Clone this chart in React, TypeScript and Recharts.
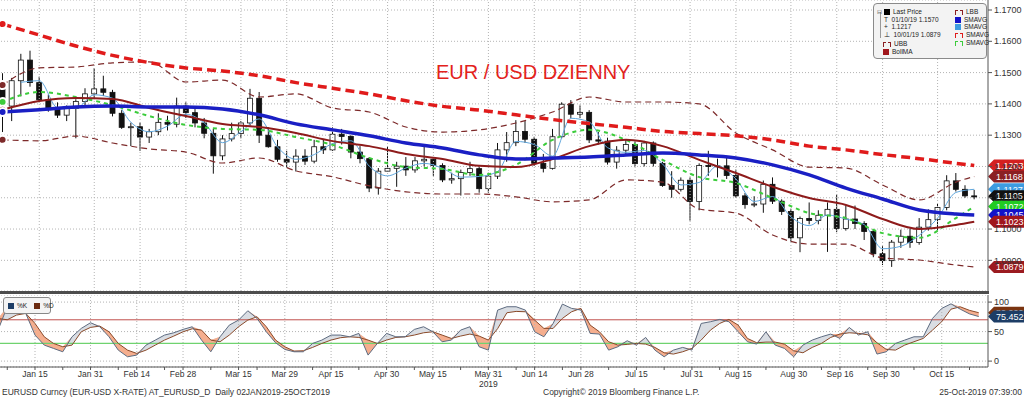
import React from "react";
import {
  ComposedChart,
  Bar,
  Line,
  Area,
  XAxis,
  YAxis,
  CartesianGrid,
  ReferenceLine
} from "recharts";

// EUR/USD, two trading days per candle (Jan 2 - Oct 25 2019)
const firstOpen = 1.1465;
const closes = [
  1.1393, 1.1474, 1.154, 1.1468, 1.1413, 1.1387, 1.1364, 1.1385, 1.1408, 1.1432,
  1.1448, 1.1437, 1.137, 1.1325, 1.1327, 1.1294, 1.1311, 1.1341, 1.1335, 1.1393,
  1.1372, 1.1339, 1.1306, 1.1234, 1.1288, 1.1305, 1.1339, 1.1418, 1.13, 1.1263,
  1.1223, 1.1214, 1.1233, 1.1217, 1.1263, 1.1253, 1.1303, 1.1296, 1.1246, 1.1225,
  1.1131, 1.1185, 1.1194, 1.1201, 1.1189, 1.1218, 1.1223, 1.1203, 1.1157, 1.1161,
  1.1181, 1.1193, 1.1129, 1.1169, 1.1253, 1.1276, 1.1312, 1.1287, 1.121, 1.1194,
  1.1295, 1.1399, 1.1367, 1.1373, 1.1285, 1.1281, 1.1214, 1.1252, 1.127, 1.1209,
  1.1275, 1.121, 1.1139, 1.1127, 1.1156, 1.1088, 1.1203, 1.1201, 1.1202, 1.1171,
  1.1106, 1.1078, 1.108, 1.1143, 1.1089, 1.1056, 1.0972, 1.1034, 1.1027, 1.1044,
  1.1063, 1.1002, 1.1032, 1.1018, 1.0992, 1.0921, 1.0899, 1.0958, 1.0977, 1.0957,
  1.1006, 1.103, 1.1069, 1.1154, 1.1127, 1.1106, 1.1105
];
const highs = [
  1.1498, 1.1483, 1.156, 1.157, 1.1487, 1.143, 1.1405, 1.1395, 1.1415, 1.145,
  1.1514, 1.149, 1.1445, 1.138, 1.134, 1.134, 1.132, 1.137, 1.1362, 1.142,
  1.1405, 1.139, 1.1355, 1.132, 1.13, 1.134, 1.1345, 1.1448, 1.1438, 1.1325,
  1.1285, 1.125, 1.1255, 1.1255, 1.1285, 1.1288, 1.1325, 1.132, 1.13, 1.1265,
  1.123, 1.1195, 1.1265, 1.1215, 1.123, 1.123, 1.1265, 1.123, 1.121, 1.118,
  1.119, 1.1215, 1.12, 1.118, 1.1275, 1.131, 1.1348, 1.1345, 1.1295, 1.124,
  1.132, 1.1405, 1.1412, 1.1395, 1.138, 1.131, 1.1292, 1.1265, 1.1285, 1.128,
  1.1282, 1.128, 1.1215, 1.1185, 1.1165, 1.1165, 1.121, 1.125, 1.1225, 1.123,
  1.119, 1.1115, 1.1105, 1.1155, 1.1165, 1.1095, 1.1065, 1.104, 1.1085, 1.106,
  1.1085, 1.111, 1.1075, 1.1075, 1.1025, 1.1, 1.0945, 1.0965, 1.0998, 1.1,
  1.1035, 1.1063, 1.108, 1.1172, 1.1179, 1.114, 1.1125
];
const lows = [
  1.131, 1.1345, 1.1424, 1.1455, 1.1405, 1.1375, 1.1355, 1.1345, 1.129, 1.1395,
  1.1415, 1.1425, 1.136, 1.132, 1.1265, 1.125, 1.1275, 1.13, 1.1315, 1.1325,
  1.1355, 1.1325, 1.129, 1.1177, 1.122, 1.128, 1.129, 1.133, 1.1275, 1.126,
  1.1215, 1.1195, 1.1184, 1.1205, 1.121, 1.124, 1.125, 1.127, 1.1226, 1.121,
  1.1118, 1.111, 1.1185, 1.1135, 1.117, 1.118, 1.12, 1.117, 1.115, 1.1145,
  1.1107, 1.117, 1.1116, 1.1116, 1.116, 1.1215, 1.1265, 1.1275, 1.1202, 1.1181,
  1.119, 1.129, 1.1355, 1.1355, 1.1275, 1.127, 1.1206, 1.1193, 1.124, 1.12,
  1.12, 1.12, 1.1135, 1.11, 1.112, 1.1027, 1.106, 1.117, 1.1165, 1.116,
  1.11, 1.1065, 1.107, 1.1052, 1.108, 1.1045, 1.096, 1.0926, 1.1015, 1.1015,
  1.0927, 1.099, 1.0995, 1.1, 1.0965, 1.091, 1.0885, 1.0879, 1.094, 1.094,
  1.095, 1.0995, 1.0995, 1.106, 1.112, 1.11, 1.1095
];

// indicator readings, taken every 4th candle (+ the last one)
const sparseIdx = [0, 4, 8, 12, 16, 20, 24, 28, 32, 36, 40, 44, 48, 52, 56, 60, 64, 68, 72, 76, 80, 84, 88, 92, 96, 100, 104, 106];
const sma200 = [
  1.1655, 1.162, 1.1585, 1.1555, 1.1532, 1.1515, 1.1505, 1.149, 1.1468, 1.145,
  1.1432, 1.141, 1.1392, 1.138, 1.1365, 1.135, 1.1337, 1.1325, 1.1312, 1.1305,
  1.1298, 1.1285, 1.1265, 1.1253, 1.1238, 1.1225, 1.121, 1.1203
];
const smaBlue = [
  1.1374, 1.1381, 1.139, 1.1393, 1.139, 1.139, 1.1384, 1.1365, 1.1336, 1.1317,
  1.1298, 1.1275, 1.1259, 1.1237, 1.1224, 1.1227, 1.123, 1.1237, 1.1243, 1.1237,
  1.1227, 1.1205, 1.1173, 1.1131, 1.1096, 1.1061, 1.1048, 1.1045
];
const bollMA = [
  1.1381, 1.1409, 1.1419, 1.1416, 1.1387, 1.1361, 1.1336, 1.1326, 1.1307, 1.1281,
  1.1265, 1.124, 1.1224, 1.1202, 1.1198, 1.1224, 1.1265, 1.1285, 1.1265, 1.1221,
  1.1179, 1.1135, 1.1099, 1.1077, 1.1032, 1.1, 1.1013, 1.1023
];
const bollUp = [
  1.146, 1.1515, 1.1518, 1.1531, 1.1534, 1.147, 1.1476, 1.1422, 1.1432, 1.1387,
  1.1374, 1.1326, 1.131, 1.1317, 1.1339, 1.1374, 1.1422, 1.1406, 1.1406, 1.14,
  1.1307, 1.1253, 1.1198, 1.1195, 1.1141, 1.1093, 1.115, 1.1168
];
const bollLo = [
  1.1285, 1.1282, 1.1297, 1.1275, 1.1256, 1.1246, 1.1211, 1.1227, 1.1186, 1.1167,
  1.1138, 1.1119, 1.1112, 1.1112, 1.1103, 1.1087, 1.1093, 1.1157, 1.115, 1.1064,
  1.1051, 1.0981, 1.0952, 1.0952, 1.0908, 1.0901, 1.0885, 1.0879
];
const smaGreen = [
  1.1406, 1.1438, 1.1422, 1.1396, 1.1361, 1.1333, 1.132, 1.1317, 1.1294, 1.1269,
  1.1227, 1.1198, 1.1192, 1.1173, 1.1205, 1.1285, 1.1317, 1.1285, 1.1221, 1.1166,
  1.1147, 1.1099, 1.1051, 1.1035, 1.0987, 1.0972, 1.1035, 1.1072
];

// fast average, every 2nd candle from the 3rd
const fastIdx = Array.from({ length: 53 }, (_, i) => 2 + i * 2);
const smaFast = [
  1.1469, 1.1474, 1.1388, 1.1386, 1.1429, 1.1418, 1.1341, 1.1311, 1.1329, 1.1367,
  1.1339, 1.1276, 1.1311, 1.1352, 1.1262, 1.1223, 1.1238, 1.1273, 1.1282, 1.1201,
  1.117, 1.1195, 1.121, 1.1194, 1.1166, 1.1168, 1.1184, 1.128, 1.127, 1.1233,
  1.1354, 1.1342, 1.126, 1.1245, 1.1251, 1.1208, 1.1141, 1.1149, 1.1202, 1.116,
  1.1088, 1.1104, 1.1039, 1.1011, 1.1045, 1.1032, 1.1014, 1.0937, 1.0945, 1.098,
  1.1035, 1.1117, 1.1127
];

// stochastic %K / %D
const stochK = [
  52.5, 92.1, 94.9, 80.8, 44.1, 27.1, 21.5, 15.8, 41.2, 55.4,
  65.0, 58.2, 41.2, 18.6, 7.3, 10.2, 27.1, 35.6, 44.1, 48.0,
  53.7, 58.2, 35.6, 15.8, 41.2, 61.0, 69.5, 85.3, 72.3, 49.7,
  31.1, 19.8, 15.8, 15.8, 29.9, 35.6, 44.1, 44.1, 41.2, 46.9,
  10.2, 29.9, 46.9, 41.2, 41.2, 53.7, 58.2, 49.7, 32.8, 35.6,
  52.5, 58.2, 24.3, 18.6, 86.4, 92.1, 92.1, 86.4, 49.7, 41.2,
  63.8, 96.6, 89.3, 86.4, 46.9, 45.8, 18.6, 24.3, 34.5, 27.1,
  40.1, 18.6, 7.3, 18.6, 23.2, 18.6, 63.8, 66.7, 70.6, 66.7,
  49.7, 32.8, 28.8, 49.7, 27.1, 21.5, 7.3, 27.1, 35.6, 41.2,
  45.8, 38.4, 57.1, 44.1, 49.7, 11.9, 15.8, 29.9, 35.6, 41.2,
  41.2, 72.3, 89.3, 97.0, 88.0, 80.0, 75.452
];
const stochD = [
  72.3, 70.0, 78.0, 80.8, 63.8, 41.2, 29.9, 24.3, 27.1, 49.7,
  57.1, 59.3, 49.7, 29.9, 18.6, 13.0, 18.6, 27.1, 35.6, 42.4,
  49.7, 54.8, 52.5, 35.6, 32.8, 44.1, 58.2, 69.5, 75.1, 58.2,
  35.6, 24.3, 17.0, 17.5, 23.2, 29.9, 35.6, 39.6, 41.2, 40.1,
  35.6, 29.9, 35.6, 40.1, 41.2, 44.1, 48.0, 49.7, 44.1, 38.4,
  42.4, 45.8, 42.4, 35.6, 55.0, 81.9, 84.2, 83.6, 69.5, 55.4,
  55.4, 72.3, 83.6, 89.3, 61.0, 49.7, 32.8, 27.1, 28.3, 29.9,
  28.8, 23.2, 14.1, 11.9, 15.8, 21.5, 35.6, 52.5, 63.8, 70.6,
  61.0, 38.4, 31.1, 32.2, 32.2, 28.8, 17.5, 14.1, 23.2, 29.9,
  40.1, 45.8, 48.0, 46.9, 44.6, 31.1, 19.8, 18.6, 27.1, 32.8,
  38.4, 52.5, 66.7, 88.0, 92.0, 86.0, 82.0
];

const tickIdx = [4, 10, 15, 20, 26, 31, 36, 42, 47, 53, 58, 63, 69, 75, 80, 86, 91, 96, 102];
const tickLabels = [
  "Jan 15", "Jan 31", "Feb 14", "Feb 28", "Mar 15", "Mar 29", "Apr 15", "Apr 30", "May 15",
  "May 31", "Jun 14", "Jun 28", "Jul 15", "Jul 31", "Aug 15", "Aug 30", "Sep 16", "Sep 30", "Oct 15"
];
const minorIdx = [1, 7, 13, 18, 23, 28, 34, 39, 45, 50, 56, 61, 66, 72, 78, 83, 89, 94, 99, 105];
const priceTicks = [1.09, 1.1, 1.11, 1.12, 1.13, 1.14, 1.15, 1.16, 1.17];

const labelOf = new Map(tickIdx.map((k, i) => [k, tickLabels[i]]));
const last = (a: number[]) => a[a.length - 1];

const rows: any[] = closes.map((c, k) => ({
  k,
  o: k === 0 ? firstOpen : closes[k - 1],
  h: highs[k],
  l: lows[k],
  c,
  K: stochK[k],
  D: stochD[k]
}));
rows.push({ k: closes.length });
sparseIdx.forEach((k, i) => {
  Object.assign(rows[k], {
    s200: sma200[i],
    sBlue: smaBlue[i],
    bMA: bollMA[i],
    bUp: bollUp[i],
    bLo: bollLo[i],
    sGreen: smaGreen[i]
  });
});
fastIdx.forEach((k, i) => {
  rows[k].sFast = smaFast[i];
});

const FONT = "'Liberation Sans', Arial, sans-serif";
const GRID = "#b4b4b4";

function Candle(props: any) {
  const { x, y, width, height, payload } = props;
  if (!payload || payload.c == null || !isFinite(y) || !isFinite(height)) return null;
  const top = Math.min(y, y + height);
  const span = Math.abs(height);
  const { o, h, l, c } = payload;
  const ppu = span / (h - l || 1);
  const yO = top + (h - o) * ppu;
  const yC = top + (h - c) * ppu;
  const cx = x + width / 2;
  const up = c >= o;
  return (
    <g>
      <line x1={cx} x2={cx} y1={top} y2={top + span} stroke="#111" strokeWidth={1} />
      <rect
        x={x}
        y={Math.min(yO, yC)}
        width={width}
        height={Math.max(1, Math.abs(yC - yO))}
        fill={up ? "#fff" : "#111"}
        stroke="#111"
        strokeWidth={0.8}
      />
    </g>
  );
}

function Tag(props: any) {
  const { viewBox, text, color, textColor = "#fff" } = props;
  if (!viewBox) return null;
  const x = viewBox.x + viewBox.width;
  const y = viewBox.y;
  return (
    <g>
      <path
        d={`M${x},${y} L${x + 6},${y - 6} L${x + 36},${y - 6} L${x + 36},${y + 6} L${x + 6},${y + 6} Z`}
        fill={color}
      />
      <text x={x + 8} y={y + 3.3} fontSize={9} fill={textColor} fontFamily={FONT}>
        {text}
      </text>
    </g>
  );
}

function XTick(props: any) {
  const { x, y, payload } = props;
  const lab = labelOf.get(payload.value);
  return (
    <g>
      <line x1={x} x2={x} y1={y} y2={y + 3} stroke="#555" />
      {lab && (
        <text x={x} y={y + 10} textAnchor="middle" fontSize={8.5} fill="#333" fontFamily={FONT}>
          {lab}
        </text>
      )}
      {lab === "May 31" && (
        <text x={x} y={y + 20} textAnchor="middle" fontSize={8.5} fill="#333" fontFamily={FONT}>
          2019
        </text>
      )}
    </g>
  );
}

const vGrid = () =>
  tickIdx.map((k) => (
    <ReferenceLine key={"v" + k} x={k} stroke={GRID} strokeDasharray="1 2" />
  ));

function PriceChart() {
  return (
    <ComposedChart
      width={1026}
      height={291}
      data={rows}
      margin={{ top: 0, right: 0, bottom: 0, left: 0 }}
    >
      <CartesianGrid vertical={false} stroke={GRID} strokeDasharray="1 2" />
      {vGrid()}
      <XAxis dataKey="k" type="category" hide />
      <YAxis
        orientation="right"
        width={36}
        domain={[1.0802, 1.1732]}
        allowDataOverflow
        ticks={priceTicks}
        tickFormatter={(v: number) => v.toFixed(4)}
        tick={{ fontSize: 9, fill: "#333", fontFamily: FONT }}
        tickSize={4}
        stroke="#555"
      />
      <Bar
        dataKey={(d: any) => (d.c == null ? null : [d.l, d.h])}
        barSize={5}
        shape={(p: any) => <Candle {...p} />}
        isAnimationActive={false}
      />
      <Line dataKey="bUp" type="monotone" stroke="#7d2a2a" strokeWidth={1.2} strokeDasharray="6 4" dot={false} connectNulls isAnimationActive={false} />
      <Line dataKey="bLo" type="monotone" stroke="#7d2a2a" strokeWidth={1.2} strokeDasharray="6 4" dot={false} connectNulls isAnimationActive={false} />
      <Line dataKey="sFast" type="monotone" stroke="#5fa6dc" strokeWidth={1} dot={false} connectNulls isAnimationActive={false} />
      <Line dataKey="sGreen" type="monotone" stroke="#3ccc3c" strokeWidth={2} strokeDasharray="4 4" dot={false} connectNulls isAnimationActive={false} />
      <Line dataKey="bMA" type="monotone" stroke="#8e1b1b" strokeWidth={2} dot={false} connectNulls isAnimationActive={false} />
      <Line dataKey="sBlue" type="monotone" stroke="#1a1fc4" strokeWidth={3.5} dot={false} connectNulls isAnimationActive={false} />
      <Line dataKey="s200" type="monotone" stroke="#e01b1b" strokeWidth={3.5} strokeDasharray="9 5" dot={false} connectNulls isAnimationActive={false} />
      <ReferenceLine y={last(sma200)} stroke="none" label={<Tag text={last(sma200).toFixed(4)} color="#d42020" />} />
      <ReferenceLine y={last(bollUp)} stroke="none" label={<Tag text={last(bollUp).toFixed(4)} color="#8b1f22" />} />
      <ReferenceLine y={last(smaFast)} stroke="none" label={<Tag text={last(smaFast).toFixed(4)} color="#3d9be0" />} />
      <ReferenceLine y={last(closes)} stroke="none" label={<Tag text={last(closes).toFixed(4)} color="#111" />} />
      <ReferenceLine y={last(smaGreen)} stroke="none" label={<Tag text={last(smaGreen).toFixed(4)} color="#22cc22" />} />
      <ReferenceLine y={last(smaBlue)} stroke="none" label={<Tag text={last(smaBlue).toFixed(4)} color="#1212c8" />} />
      <ReferenceLine y={last(bollMA)} stroke="none" label={<Tag text={last(bollMA).toFixed(4)} color="#a0161c" />} />
      <ReferenceLine y={last(bollLo)} stroke="none" label={<Tag text={last(bollLo).toFixed(4)} color="#9b1b20" />} />
    </ComposedChart>
  );
}

function StochChart() {
  return (
    <ComposedChart
      width={1026}
      height={98}
      data={rows}
      margin={{ top: 0, right: 0, bottom: 0, left: 0 }}
    >
      <CartesianGrid vertical={false} stroke={GRID} strokeDasharray="1 2" />
      {vGrid()}
      <XAxis
        dataKey="k"
        type="category"
        ticks={[...tickIdx, ...minorIdx].sort((a, b) => a - b)}
        tick={<XTick />}
        tickLine={false}
        tickSize={0}
        tickMargin={0}
        height={26}
        stroke="#555"
        interval={0}
      />
      <YAxis
        orientation="right"
        width={36}
        domain={[-10, 112]}
        allowDataOverflow
        ticks={[0, 50, 100]}
        tick={{ fontSize: 9, fill: "#333", fontFamily: FONT }}
        tickSize={4}
        stroke="#555"
      />
      <ReferenceLine y={70} stroke="#c0504d" strokeWidth={1} />
      <ReferenceLine y={30} stroke="#6fd36f" strokeWidth={1.2} />
      <Area
        dataKey={(d: any) => (d.K == null ? null : [d.D, Math.max(d.K, d.D)])}
        type="linear"
        stroke="none"
        fill="#d9dde3"
        fillOpacity={1}
        isAnimationActive={false}
      />
      <Area
        dataKey={(d: any) => (d.K == null ? null : [d.K, Math.max(d.K, d.D)])}
        type="linear"
        stroke="none"
        fill="#f5ae8e"
        fillOpacity={1}
        isAnimationActive={false}
      />
      <Line dataKey="D" type="linear" stroke="#8a4a2a" strokeWidth={1} dot={false} isAnimationActive={false} />
      <Line dataKey="K" type="linear" stroke="#5d6b80" strokeWidth={1} dot={false} isAnimationActive={false} />
      <ReferenceLine y={last(stochD)} stroke="none" label={<Tag text={last(stochD).toFixed(3)} color="#7a3410" />} />
      <ReferenceLine y={last(stochK)} stroke="none" label={<Tag text={last(stochK).toFixed(3)} color="#1d3d66" />} />
    </ComposedChart>
  );
}

const sq = (bg: string): React.CSSProperties => ({
  display: "inline-block",
  width: 6,
  height: 6,
  background: bg,
  marginRight: 3,
  verticalAlign: "middle"
});
const dashIcon = (c: string): React.CSSProperties => ({
  display: "inline-block",
  width: 6,
  height: 4,
  border: `1px dashed ${c}`,
  borderBottom: "none",
  marginRight: 3,
  verticalAlign: "middle"
});

function Legend() {
  const row: React.CSSProperties = { position: "absolute", height: 8, lineHeight: "8px", whiteSpace: "nowrap" };
  return (
    <div
      style={{
        position: "absolute",
        left: 873,
        top: 3,
        width: 112,
        height: 54,
        border: "1px solid #8a8a8a",
        borderRadius: 4,
        background: "#f3f3f3",
        fontFamily: FONT,
        fontSize: 6.5,
        color: "#222"
      }}
    >
      <div style={{ position: "absolute", left: 6, top: 8, width: 1, height: 26, background: "#999" }} />
      <div style={{ ...row, left: 3, top: 4 }}>
        <span style={{ fontSize: 6, color: "#666", marginRight: 2 }}>⊟</span>
        <span style={sq("#000")} />Last Price
      </div>
      <div style={{ ...row, left: 10, top: 12 }}>T&nbsp; 01/10/19 1.1570</div>
      <div style={{ ...row, left: 10, top: 19 }}>+&nbsp; 1.1217</div>
      <div style={{ ...row, left: 10, top: 27 }}>⊥&nbsp; 10/01/19 1.0879</div>
      <div style={{ ...row, left: 9, top: 36 }}>
        <span style={dashIcon("#8b1f22")} />UBB
      </div>
      <div style={{ ...row, left: 9, top: 44 }}>
        <span style={sq("#a0161c")} />BollMA
      </div>
      <div style={{ ...row, left: 81, top: 4 }}>
        <span style={dashIcon("#8b1f22")} />LBB
      </div>
      <div style={{ ...row, left: 81, top: 12 }}>
        <span style={sq("#1212c8")} />SMAVG
      </div>
      <div style={{ ...row, left: 81, top: 19 }}>
        <span style={sq("#3d9be0")} />SMAVG
      </div>
      <div style={{ ...row, left: 81, top: 27 }}>
        <span style={dashIcon("#e01b1b")} />SMAVG
      </div>
      <div style={{ ...row, left: 81, top: 35 }}>
        <span style={dashIcon("#3ccc3c")} />SMAVG
      </div>
    </div>
  );
}

export default function App() {
  return (
    <div
      style={{
        position: "relative",
        width: 1024,
        height: 400,
        overflow: "hidden",
        background: "#fff",
        fontFamily: FONT
      }}
    >
      <style>{"body{margin:0}"}</style>
      <div style={{ position: "absolute", left: -2, top: 0 }}>
        <PriceChart />
      </div>
      <div style={{ position: "absolute", left: 0, top: 291, width: 989, height: 3, background: "#4d4d4d" }} />
      <div style={{ position: "absolute", left: -2, top: 295 }}>
        <StochChart />
      </div>
      <div
        style={{
          position: "absolute",
          left: 436,
          top: 62,
          fontSize: 20,
          lineHeight: "20px",
          color: "#e3221b",
          whiteSpace: "nowrap"
        }}
      >
        EUR / USD DZIENNY
      </div>
      <Legend />
      <div
        style={{
          position: "absolute",
          left: 3,
          top: 297,
          width: 46,
          height: 15,
          border: "1px solid #888",
          borderRadius: 3,
          background: "#f4f4f4",
          fontSize: 6.5,
          lineHeight: "15px",
          color: "#222",
          whiteSpace: "nowrap"
        }}
      >
        <span style={{ ...sq("#1d3d66"), marginLeft: 4 }} />%K
        <span style={{ ...sq("#6b2a10"), marginLeft: 7 }} />%D
      </div>
      <div style={{ position: "absolute", left: 2, top: 387, fontSize: 8.5, color: "#333", whiteSpace: "nowrap" }}>
        EURUSD Curncy (EUR-USD X-RATE) AT_EURUSD_D&nbsp; Daily 02JAN2019-25OCT2019
      </div>
      <div style={{ position: "absolute", left: 543, top: 387, fontSize: 8.5, color: "#333", whiteSpace: "nowrap" }}>
        Copyright© 2019 Bloomberg Finance L.P.
      </div>
      <div style={{ position: "absolute", right: 2, top: 387, fontSize: 8.5, color: "#333", whiteSpace: "nowrap" }}>
        25-Oct-2019 07:39:00
      </div>
    </div>
  );
}
